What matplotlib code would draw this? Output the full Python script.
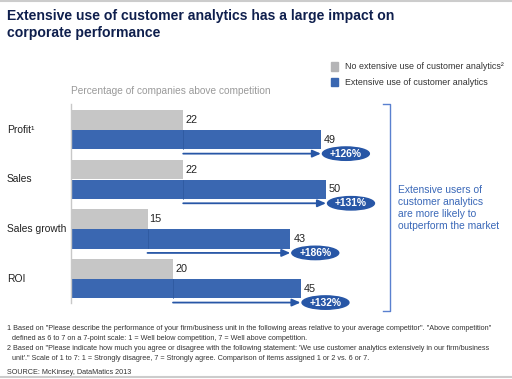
import numpy as np
import matplotlib.pyplot as plt
from matplotlib.patches import Ellipse, Patch
from matplotlib.lines import Line2D
from matplotlib.transforms import blended_transform_factory

plt.rcParams['font.family'] = ['Liberation Sans', 'DejaVu Sans']

categories = ['Profit\u00b9', 'Sales', 'Sales growth', 'ROI']
no_analytics = [22, 22, 15, 20]
with_analytics = [49, 50, 43, 45]
uplift = ['+126%', '+131%', '+186%', '+132%']

GREY = '#c6c6c6'
BLUE = '#3a67b1'
DARK_BLUE = '#2756a6'
W, H = 512, 379


def fx(x):
    return x / W


def fy(y):
    return 1 - y / H


fig = plt.figure(figsize=(5.12, 3.79), dpi=100)

# axes: x from 71px at 5.1 px/unit, y from 104px to 311px
ax = fig.add_axes([fx(71), fy(311), 306 / W, 207 / H])
ax.set_xlim(0, 60)
ax.set_ylim(3.65, -0.52)
ax.axis('off')

y = np.arange(len(categories))
ax.barh(y - 0.2, no_analytics, height=0.4, color=GREY, edgecolor='none')
ax.barh(y + 0.2, with_analytics, height=0.39, color=BLUE, edgecolor='none')
ax.plot([0, 0], [-0.51, 3.48], color='#c8c8c8', lw=1, clip_on=False)

for i, (g, b, u) in enumerate(zip(no_analytics, with_analytics, uplift)):
    ax.text(g + 0.4, i - 0.2, str(g), va='center', ha='left', fontsize=7.8, color='#222222')
    ax.text(b + 0.6, i + 0.2, str(b), va='center', ha='left', fontsize=7.8, color='#222222')
    ax.plot([g, g], [i + 0.005, i + 0.39], color='#2c579c', lw=0.5)
    ax.annotate('', xy=(b, i + 0.48), xytext=(g, i + 0.48),
                arrowprops=dict(arrowstyle='-|>,head_length=0.5,head_width=0.22',
                                color=DARK_BLUE, lw=1.3, shrinkA=0, shrinkB=0),
                annotation_clip=False)
    ax.add_patch(Ellipse((b + 4.9, i + 0.48), 9.2, 0.27, color=DARK_BLUE, clip_on=False))
    ax.text(b + 4.9, i + 0.48, u, ha='center', va='center', fontsize=7.4,
            fontweight='bold', color='white', clip_on=False)

# category labels
lab_tr = blended_transform_factory(fig.transFigure, ax.transData)
for i, c in enumerate(categories):
    ax.text(fx(7), i, c, transform=lab_tr, ha='left', va='center', fontsize=7.4, color='#222222')

# title
fig.text(fx(7), fy(9), 'Extensive use of customer analytics has a large impact on\ncorporate performance',
         ha='left', va='top', fontsize=10.05, fontweight='bold', color='#0f1f4d', linespacing=1.25)

fig.text(fx(71), fy(91), 'Percentage of companies above competition', ha='left', va='center',
         fontsize=7.3, color='#9a9a9a')

# legend
fig.legend(handles=[Patch(color='#b4b4b6', label='No extensive use of customer analytics\u00b2'),
                    Patch(color=BLUE, label='Extensive use of customer analytics')],
           loc='upper left', bbox_to_anchor=(fx(331), fy(62)), frameon=False, fontsize=6.4,
           handlelength=0.8, handleheight=1.1, handletextpad=0.8, labelspacing=0.7,
           borderpad=0, borderaxespad=0, labelcolor='#333333')

# bracket
bc = '#5a80cf'
fig.add_artist(Line2D([fx(383), fx(390), fx(390), fx(383)], [fy(104), fy(104), fy(311), fy(311)],
                      color=bc, lw=1))
fig.text(fx(398), fy(208), 'Extensive users of\ncustomer analytics\nare more likely to\noutperform the market',
         ha='left', va='center', fontsize=7.4, color='#3a68b8', linespacing=1.28)

# footnotes
notes = [
    (7, 328, '1 Based on "Please describe the performance of your firm/business unit in the following areas relative to your average competitor". "Above competition"'),
    (12, 338, 'defined as 6 to 7 on a 7-point scale: 1 = Well below competition, 7 = Well above competition.'),
    (7, 349, '2 Based on "Please indicate how much you agree or disagree with the following statement: \'We use customer analytics extensively in our firm/business'),
    (12, 359, 'unit\'." Scale of 1 to 7: 1 = Strongly disagree, 7 = Strongly agree. Comparison of items assigned 1 or 2 vs. 6 or 7.'),
    (7, 372, 'SOURCE: McKinsey, DataMatics 2013'),
]
for x0, y0, t in notes:
    fig.text(fx(x0), fy(y0), t, ha='left', va='center', fontsize=5.2, color='#333333')

# frame lines
fig.add_artist(Line2D([0, 1], [fy(0.7), fy(0.7)], color='#cccccc', lw=1.5))
fig.add_artist(Line2D([0, 1], [fy(377), fy(377)], color='#cccccc', lw=1.5))

fig.savefig('out.png', dpi=100)
